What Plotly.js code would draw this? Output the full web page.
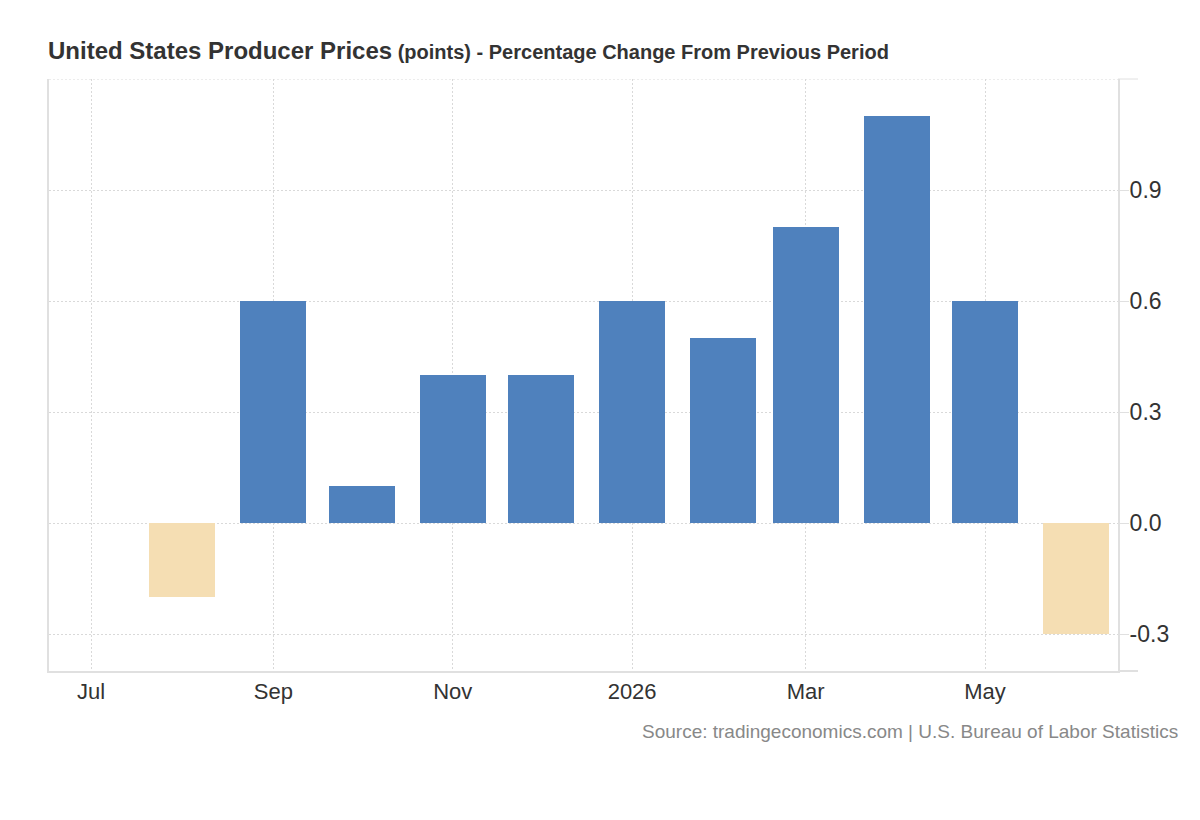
<!DOCTYPE html>
<html>
<head>
<meta charset="utf-8">
<script src="https://cdn.plot.ly/plotly-3.0.1.min.js"></script>
<style>
  html, body { margin: 0; padding: 0; background: #fff; }
  #chart { width: 1200px; height: 820px; }
</style>
</head>
<body>
<div id="chart"></div>
<script>
// Data
const months = ['2025-08-01','2025-09-01','2025-10-01','2025-11-01','2025-12-01','2026-01-01','2026-02-01','2026-03-01','2026-04-01','2026-05-01','2026-06-01'];
const values = [-0.2, 0.6, 0.1, 0.4, 0.4, 0.6, 0.5, 0.8, 1.1, 0.6, -0.3];
const xTickVals = ['2025-07-01','2025-09-01','2025-11-01','2026-01-01','2026-03-01','2026-05-01'];
const xTickText = ['Jul','Sep','Nov','2026','Mar','May'];
const yTickVals = [-0.3, 0, 0.3, 0.6, 0.9];
const yTickText = ['-0.3','0.0','0.3','0.6','0.9'];

const POS = '#4f81bd';
const NEG = '#f5deb3';
const colors = values.map(v => v < 0 ? NEG : POS);

const trace = {
  type: 'bar',
  x: months,
  y: values,
  width: months.map(() => 22.4 * 86400000),
  marker: { color: colors, line: { width: 0 } },
  hoverinfo: 'x+y'
};

const gridColor = '#d9d9d9';
const lineColor = '#e0e0e0';
const FONT = 'Liberation Sans, Arial, sans-serif';

const layout = {
  width: 1200,
  height: 820,
  margin: { l: 49, r: 82, t: 79, b: 149, pad: 0 },
  paper_bgcolor: '#ffffff',
  plot_bgcolor: '#ffffff',
  font: { family: FONT, color: '#333333' },
  showlegend: false,
  bargap: 0,
  title: {
    text: '<b>United States Producer Prices</b><span style="font-size:20px"><b> (points) - Percentage Change From Previous Period</b></span>',
    font: { family: FONT, size: 24, color: '#333333' },
    xref: 'container', x: 0.04, xanchor: 'left',
    yref: 'container', y: 1 - 51 / 820, yanchor: 'middle'
  },
  xaxis: {
    type: 'date',
    range: ['2025-06-16 17:00', '2026-06-15 05:30'],
    tickvals: xTickVals,
    ticktext: xTickText,
    tickfont: { size: 22, color: '#333333' },
    showgrid: true,
    gridcolor: gridColor,
    griddash: '2px,2px',
    gridwidth: 1,
    showline: true,
    linecolor: lineColor,
    linewidth: 2,
    ticks: '',
    zeroline: false,
    fixedrange: true
  },
  yaxis: {
    side: 'right',
    range: [-0.4, 1.2],
    tickvals: yTickVals,
    ticktext: yTickText,
    tickfont: { size: 23, color: '#333333' },
    ticklabelstandoff: -4,
    showgrid: true,
    gridcolor: gridColor,
    griddash: '2px,2px',
    gridwidth: 1,
    showline: true,
    mirror: true,
    linecolor: lineColor,
    linewidth: 2,
    ticks: 'outside',
    ticklen: 9,
    tickcolor: lineColor,
    tickwidth: 1,
    zeroline: false,
    fixedrange: true
  },
  shapes: [
    { type: 'line', xref: 'paper', yref: 'y', x0: 0, x1: 1, y0: 1.2, y1: 1.2,
      line: { color: gridColor, width: 1, dash: '2px,2px' }, layer: 'below' },
    { type: 'line', xref: 'paper', yref: 'paper', x0: 1, x1: 1 + 20 / 1069, y0: 1, y1: 1,
      line: { color: lineColor, width: 1 } },
    { type: 'line', xref: 'paper', yref: 'paper', x0: 1, x1: 1 + 20 / 1069, y0: 0, y1: 0,
      line: { color: lineColor, width: 2 } }
  ],
  annotations: [
    {
      text: 'Source: tradingeconomics.com | U.S. Bureau of Labor Statistics',
      xref: 'paper', yref: 'paper',
      x: (1180 - 49) / 1069, xanchor: 'right',
      y: (670.7 - 731) / 591.7, yanchor: 'middle',
      showarrow: false,
      font: { family: FONT, size: 19, color: '#888888' }
    }
  ]
};

Plotly.newPlot('chart', [trace], layout, { displayModeBar: false, responsive: false });
</script>
</body>
</html>
